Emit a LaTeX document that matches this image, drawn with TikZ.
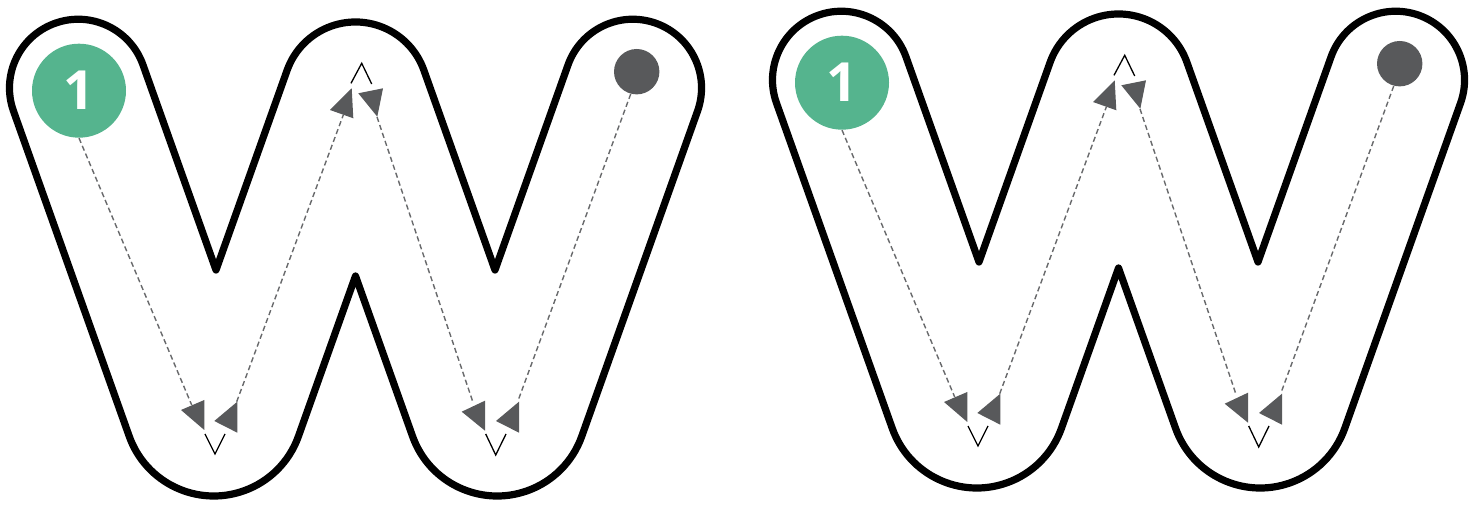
\documentclass[tikz,border=0pt]{standalone}
\usepackage{fontspec}
\setsansfont{Open Sans}
\usepackage{xcolor}
\definecolor{startcolor}{HTML}{55B48E}
\definecolor{endcolor}{HTML}{58595B}
\definecolor{tracecolor}{HTML}{68696B}
\usepackage{tikz}

\begin{document}
\begin{tikzpicture}[x=0.5pt, y=-0.5pt,
  outline/.style={line width=3.6pt, line join=round},
  trace/.style={draw=tracecolor, dash pattern=on 2.6pt off 1.6pt, line width=0.7pt},
  head/.style={fill=endcolor},
  chevron/.style={line width=0.65pt},
  startdot/.style={circle, fill=startcolor, minimum size=47pt, inner sep=0pt, text=white,
    font=\sffamily\bfseries\fontsize{27}{27}\selectfont},
  enddot/.style={circle, fill=endcolor, minimum size=22.7pt, inner sep=0pt}]
  \useasboundingbox (0,0) rectangle (1481,506);
  \foreach \w/\dx/\dy in {1/355.5/0, 2/1118.5/-8} {
    \begin{scope}[shift={(\dx,\dy)}]
      \draw[outline] (-139.5,270) -- (-212.5,64.94)
        arc[start angle=-19.6, end angle=-199.6, radius=68.75] -- (-226.26,436.32)
        arc[start angle=160.4, end angle=19.6, radius=89.8] -- (0,276) -- (57.06,436.32)
        arc[start angle=160.4, end angle=19.6, radius=89.8] -- (342.04,111.06)
        arc[start angle=19.6, end angle=-160.4, radius=68.75] -- (139.5,270) -- (68.37,70.23)
        arc[start angle=-19.6, end angle=-160.4, radius=72.58] -- cycle;
      \node[startdot] (start\w) at (-276.5,90.7) {1};
      \node[enddot] (end\w) at (281.2,71.7) {};
      \coordinate (a\w) at (-163.8,405);
      \coordinate (b\w) at (-118.8,401.7);
      \coordinate (c\w) at (-12.2,115);
      \coordinate (d\w) at (21.5,117);
      \coordinate (e\w) at (117.8,403.3);
      \coordinate (f\w) at (162.8,400);
      \draw[trace] (start\w.south) -- (a\w);
      \draw[trace] (b\w) -- (c\w);
      \draw[trace] (d\w) -- (e\w);
      \draw[trace] (end\w.-105) -- (f\w);
      \foreach \ax/\ay/\bx/\by/\cx/\cy in {
        -174.5/410/-151.2/400/-151.2/430,
        -141.2/421/-118.2/401.7/-118.2/432.7,
        -25.5/110/-3.8/88.3/-2.2/118.3,
        2.8/93.3/27.5/88.3/21.8/116.7,
        106.2/411.7/129.5/400.7/129.5/430.7,
        140.5/421/163.5/401.7/163.5/432.7%
      } {
        \fill[head] (\ax,\ay) -- (\bx,\by) -- (\cx,\cy) -- cycle;
      }
      \draw[chevron] (-150.5,434) -- (-140.5,454) -- (-130.5,434);
      \draw[chevron] (-4.5,83.3) -- (6.2,63.3) -- (16.2,84);
      \draw[chevron] (130.2,434) -- (140.2,455) -- (150.5,434);
    \end{scope}
  }
\end{tikzpicture}
\end{document}
